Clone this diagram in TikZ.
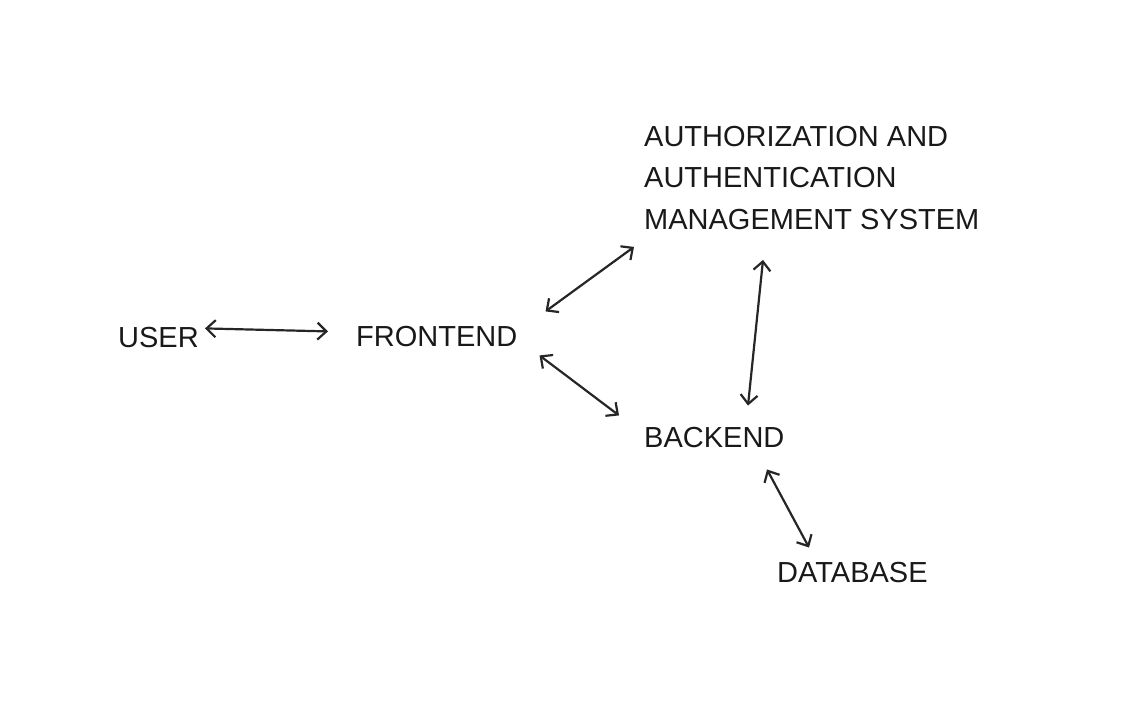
\documentclass[tikz,border=0pt]{standalone}
\usepackage{fontspec}
\setmainfont{Liberation Sans}
\usetikzlibrary{arrows.meta}

\begin{document}
\begin{tikzpicture}[x=1pt, y=-1pt,
    label/.style={inner sep=0pt, font=\fontsize{29}{41.5}\selectfont, text=black!90},
    link/.style={{Straight Barb[length=9pt,width=17pt]}-{Straight Barb[length=9pt,width=17pt]}, line width=2.2pt, draw=black!85}]
    \useasboundingbox (0,0) rectangle (1126,708);

    \node[label, anchor=base west] (user) at (118,347) {USER};
    \node[label, anchor=base west] (frontend) at (356,346) {FRONTEND};
    \node[label, anchor=north west, align=left] (auth) at (644,126)
        {AUTHORIZATION AND\\AUTHENTICATION\\MANAGEMENT SYSTEM};
    \node[label, anchor=base west] (backend) at (644,447) {BACKEND};
    \node[label, anchor=base west] (database) at (777,582) {DATABASE};

    \draw[link] ([shift={(6,-8.6)}]user.east) -- ([shift={(-28,-4.6)}]frontend.west);
    \draw[link] ([shift={(28,-24.6)}]frontend.east) -- ([shift={(-10,17)}]auth.south west);
    \draw[link] ([shift={(22,19.4)}]frontend.east) -- ([shift={(-25,-21.6)}]backend.west);
    \draw[link] ([shift={(119,30)}]auth.south west) -- ([shift={(104,-21)}]backend.north west);
    \draw[link] ([shift={(123,22)}]backend.south west) -- ([shift={(32,-14)}]database.north west);
\end{tikzpicture}
\end{document}
